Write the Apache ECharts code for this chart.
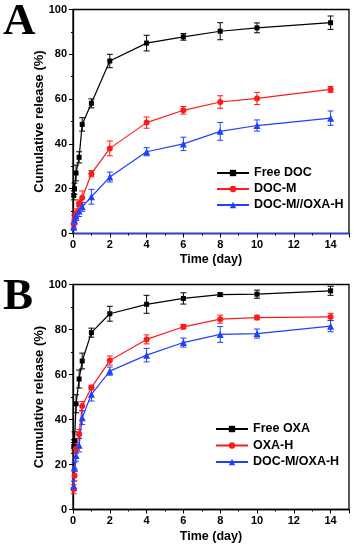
<!DOCTYPE html>
<html>
<head>
<meta charset="utf-8">
<style>
  html, body { margin: 0; padding: 0; background: #fff; }
  #chart { width: 354px; height: 547px; }
</style>
<script src="https://cdn.jsdelivr.net/npm/echarts@6/dist/echarts.min.js"></script>
</head>
<body>
<div id="chart"></div>
<script>
// time points (day), shared by every curve
const times = [0.042, 0.083, 0.167, 0.333, 0.5, 1, 2, 4, 6, 8, 10, 14];
const xTicks = [0, 2, 4, 6, 8, 10, 12, 14];
const yTicks = [0, 20, 40, 60, 80, 100];

// panel A
const namesA = ['Free DOC', 'DOC-M', 'DOC-M//OXA-H'];
const freeDoc = [17, 20, 27, 34, 48.7, 58.1, 77, 85, 87.8, 90.3, 91.8, 94.1];
const freeDocErr = [2, 2.5, 3.5, 2.5, 3, 2, 3, 3.5, 1.5, 3.8, 2.2, 3];
const docM = [4, 6.5, 9, 13.5, 16, 26.7, 38, 49.5, 55, 58.7, 60.3, 64.3];
const docMErr = [1.5, 2, 2, 1.5, 3, 1.4, 3.3, 2.5, 1.7, 2.8, 2.7, 1.3];
const docMoxaA = [3, 6, 7.8, 10.1, 11.9, 16.4, 25.2, 36.5, 40, 45.6, 48.2, 51.5];
const docMoxaAErr = [1.5, 2, 2, 2.5, 2, 3.3, 2.2, 1.8, 3, 4, 2.5, 3.2];

// panel B
const namesB = ['Free OXA', 'OXA-H', 'DOC-M/OXA-H'];
const freeOxa = [28, 30.5, 47, 58, 66, 78.6, 87, 91.2, 93.8, 95.5, 95.7, 97.2];
const freeOxaErr = [3, 4, 4, 4, 3.5, 2, 3.3, 4, 2.5, 0.8, 1.8, 2];
const oxaH = [9, 15, 27, 33.5, 46, 54.2, 66.2, 75.6, 81.2, 84.6, 85.3, 85.6];
const oxaHErr = [2, 2, 2, 2, 2, 1, 2, 2, 1, 1.8, 1, 1.6];
const docMoxaB = [10.5, 18.8, 24, 28.6, 40.8, 51.2, 61.5, 68.6, 74.2, 77.8, 78.2, 81.5];
const docMoxaBErr = [2, 2, 2.5, 3, 3, 3, 1.8, 3, 2, 3.5, 2, 2.5];

const FONT = '"Liberation Sans", Arial, sans-serif';
const colors = ['#000000', '#ff1a1a', '#2040ff'];
const symbols = ['rect', 'circle', 'triangle'];
const symbolSizes = [5, 6, 7];

const chart = echarts.init(document.getElementById('chart'), null, { renderer: 'canvas' });

function pairs(vals) {
  return times.map((t, i) => [t, vals[i]]);
}

function errData(vals, errs) {
  return times.map((t, i) => [t, vals[i], errs[i]]);
}

// vertical error bar with caps
function renderErr(params, api) {
  const x = api.value(0), y = api.value(1), e = api.value(2);
  const hi = api.coord([x, y + e]);
  const lo = api.coord([x, y - e]);
  const c = api.visual('color');
  const w = 3;
  const style = { stroke: c, lineWidth: 1 };
  return {
    type: 'group',
    children: [
      { type: 'line', shape: { x1: hi[0], y1: hi[1], x2: lo[0], y2: lo[1] }, style },
      { type: 'line', shape: { x1: hi[0] - w, y1: hi[1], x2: hi[0] + w, y2: hi[1] }, style },
      { type: 'line', shape: { x1: lo[0] - w, y1: lo[1], x2: lo[0] + w, y2: lo[1] }, style }
    ]
  };
}

function makeAxes(idx, xLineColor, xGap) {
  const xAxis = {
    gridIndex: idx,
    type: 'value',
    min: 0, max: 15, interval: 2,
    name: 'Time (day)',
    nameLocation: 'middle',
    nameGap: xGap,
    nameMoveOverlap: false,
    nameTextStyle: { fontFamily: FONT, fontWeight: 'bold', fontSize: 12.5, color: '#000' },
    axisLine: { onZero: false, lineStyle: { color: xLineColor, width: 1.3 } },
    axisTick: { inside: false, length: 4, lineStyle: { color: '#000', width: 1 } },
    minorTick: { show: true, splitNumber: 2, length: 2, lineStyle: { color: '#000' } },
    splitLine: { show: false },
    axisLabel: {
      margin: 6, fontFamily: FONT, fontWeight: 'bold', fontSize: 11, color: '#000',
      showMaxLabel: false,
      formatter: v => (xTicks.indexOf(v) >= 0 ? String(v) : '')
    }
  };
  const yAxis = {
    gridIndex: idx,
    type: 'value',
    min: 0, max: 100, interval: 20,
    name: 'Cumulative release (%)',
    nameLocation: 'middle',
    nameGap: 27,
    nameMoveOverlap: false,
    nameTextStyle: { fontFamily: FONT, fontWeight: 'bold', fontSize: 13, color: '#000' },
    axisLine: { lineStyle: { color: '#000', width: 1.3 } },
    axisTick: { inside: false, length: 4, lineStyle: { color: '#000', width: 1 } },
    minorTick: { show: true, splitNumber: 2, length: 2, lineStyle: { color: '#000' } },
    splitLine: { show: false },
    axisLabel: {
      margin: 6, fontFamily: FONT, fontWeight: 'bold', fontSize: 11, color: '#000',
      formatter: v => (yTicks.indexOf(v) >= 0 ? String(v) : '')
    }
  };
  return { xAxis, yAxis };
}

function makeSeries(idx, names, vals, errs) {
  const out = [];
  names.forEach((n, i) => {
    out.push({
      type: 'custom',
      xAxisIndex: idx, yAxisIndex: idx,
      renderItem: renderErr,
      itemStyle: { color: colors[i] },
      encode: { x: 0, y: 1 },
      data: errData(vals[i], errs[i]),
      z: 3,
      silent: true
    });
    out.push({
      name: n,
      type: 'line',
      xAxisIndex: idx, yAxisIndex: idx,
      data: pairs(vals[i]),
      symbol: symbols[i],
      symbolSize: symbolSizes[i],
      showAllSymbol: true,
      color: colors[i],
      lineStyle: { width: 1.2, color: colors[i] },
      itemStyle: { color: colors[i] },
      z: 4
    });
  });
  return out;
}

const a = makeAxes(0, '#2040ff', 20);
const b = makeAxes(1, '#000', 21);

const legendText = { fontFamily: FONT, fontWeight: 'bold', fontSize: 12.5, color: '#000', lineHeight: 14 };

chart.setOption({
  animation: false,
  backgroundColor: '#fff',
  grid: [
    { left: 73, top: 9.5, width: 276, height: 224, show: true, borderColor: '#000', borderWidth: 1.3, backgroundColor: 'transparent' },
    { left: 73, top: 284.5, width: 276, height: 225, show: true, borderColor: '#000', borderWidth: 1.3, backgroundColor: 'transparent' }
  ],
  xAxis: [a.xAxis, b.xAxis],
  yAxis: [a.yAxis, b.yAxis],
  legend: [
    {
      data: namesA, orient: 'vertical', left: 211, top: 161,
      itemWidth: 32, itemHeight: 8, itemGap: 2, textStyle: legendText
    },
    {
      data: namesB, orient: 'vertical', left: 210, top: 417,
      itemWidth: 32, itemHeight: 8, itemGap: 2.5, textStyle: legendText
    }
  ],
  graphic: [
    { type: 'text', left: 3, top: 0, style: { text: 'A', font: 'bold 45px "Liberation Serif", "DejaVu Serif", serif', fill: '#000' } },
    { type: 'text', left: 3, top: 275, style: { text: 'B', font: 'bold 45px "Liberation Serif", "DejaVu Serif", serif', fill: '#000' } }
  ],
  series: [
    ...makeSeries(0, namesA, [freeDoc, docM, docMoxaA], [freeDocErr, docMErr, docMoxaAErr]),
    ...makeSeries(1, namesB, [freeOxa, oxaH, docMoxaB], [freeOxaErr, oxaHErr, docMoxaBErr])
  ]
});
</script>
</body>
</html>
